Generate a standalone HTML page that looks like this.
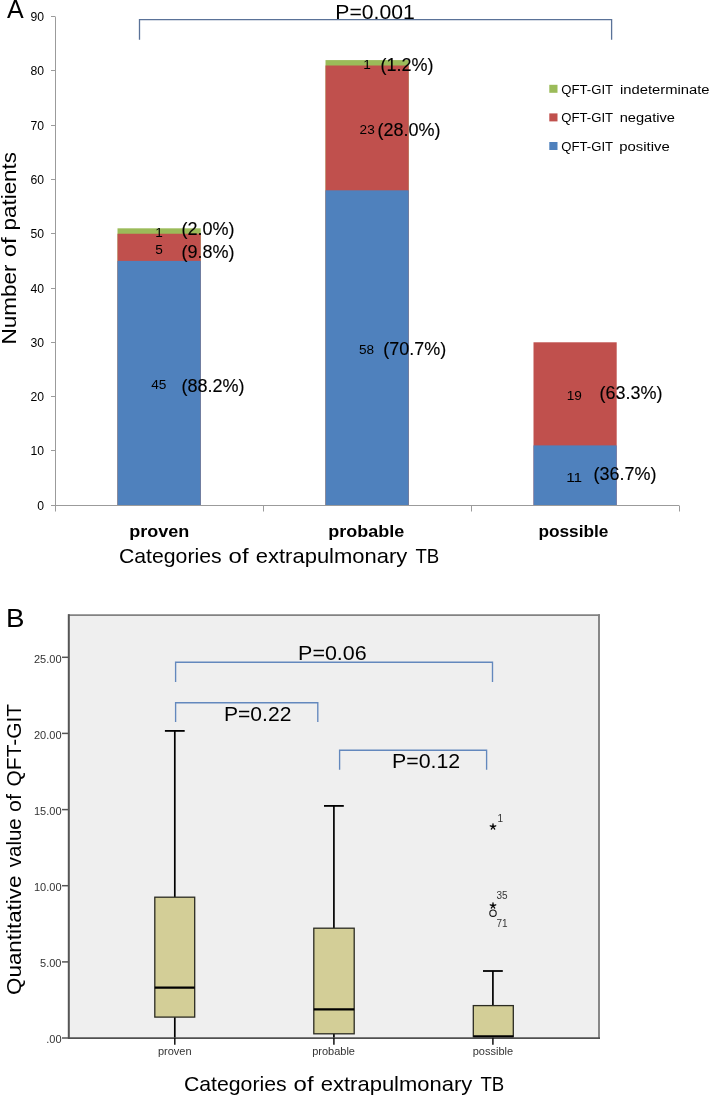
<!DOCTYPE html>
<html><head><meta charset="utf-8"><style>
html,body{margin:0;padding:0;background:#fff;width:709px;height:1096px;overflow:hidden}
svg{display:block;will-change:transform}
text{font-family:"Liberation Sans", sans-serif}
</style></head><body>
<svg width="709" height="1096" viewBox="0 0 709 1096">
<text x="7" y="17.8" font-size="25">A</text>
<rect x="117.5" y="228.32" width="83.2" height="276.78" fill="#9bbb59"/>
<rect x="117.5" y="233.75" width="83.2" height="271.35" fill="#c0504d"/>
<rect x="117.5" y="260.89" width="83.2" height="244.21" fill="#4f81bd"/>
<rect x="325.5" y="60.09" width="83.2" height="445.01" fill="#9bbb59"/>
<rect x="325.5" y="65.51" width="83.2" height="439.59" fill="#c0504d"/>
<rect x="325.5" y="190.33" width="83.2" height="314.77" fill="#4f81bd"/>
<rect x="533.5" y="342.29" width="83.2" height="162.81" fill="#c0504d"/>
<rect x="533.5" y="445.4" width="83.2" height="59.7" fill="#4f81bd"/>
<line x1="55.5" y1="17.1" x2="55.5" y2="511.5" stroke="#9b9b9b" stroke-width="1"/>
<line x1="55" y1="505.5" x2="679" y2="505.5" stroke="#9b9b9b" stroke-width="1"/>
<line x1="51" y1="505.5" x2="55.5" y2="505.5" stroke="#9b9b9b" stroke-width="1"/>
<text x="44" y="509.6" font-size="12.2" text-anchor="end">0</text>
<line x1="51" y1="450.5" x2="55.5" y2="450.5" stroke="#9b9b9b" stroke-width="1"/>
<text x="44" y="455.3" font-size="12.2" text-anchor="end">10</text>
<line x1="51" y1="396.5" x2="55.5" y2="396.5" stroke="#9b9b9b" stroke-width="1"/>
<text x="44" y="401.1" font-size="12.2" text-anchor="end">20</text>
<line x1="51" y1="342.5" x2="55.5" y2="342.5" stroke="#9b9b9b" stroke-width="1"/>
<text x="44" y="346.8" font-size="12.2" text-anchor="end">30</text>
<line x1="51" y1="288.5" x2="55.5" y2="288.5" stroke="#9b9b9b" stroke-width="1"/>
<text x="44" y="292.5" font-size="12.2" text-anchor="end">40</text>
<line x1="51" y1="233.5" x2="55.5" y2="233.5" stroke="#9b9b9b" stroke-width="1"/>
<text x="44" y="238.3" font-size="12.2" text-anchor="end">50</text>
<line x1="51" y1="179.5" x2="55.5" y2="179.5" stroke="#9b9b9b" stroke-width="1"/>
<text x="44" y="184.0" font-size="12.2" text-anchor="end">60</text>
<line x1="51" y1="125.5" x2="55.5" y2="125.5" stroke="#9b9b9b" stroke-width="1"/>
<text x="44" y="129.7" font-size="12.2" text-anchor="end">70</text>
<line x1="51" y1="70.5" x2="55.5" y2="70.5" stroke="#9b9b9b" stroke-width="1"/>
<text x="44" y="75.4" font-size="12.2" text-anchor="end">80</text>
<line x1="51" y1="16.5" x2="55.5" y2="16.5" stroke="#9b9b9b" stroke-width="1"/>
<text x="44" y="21.2" font-size="12.2" text-anchor="end">90</text>
<line x1="263.5" y1="505.5" x2="263.5" y2="511.5" stroke="#9b9b9b" stroke-width="1"/>
<line x1="471.5" y1="505.5" x2="471.5" y2="511.5" stroke="#9b9b9b" stroke-width="1"/>
<line x1="679.5" y1="505.5" x2="679.5" y2="511.5" stroke="#9b9b9b" stroke-width="1"/>
<g transform="translate(16.4,350) rotate(-90)">
<text x="5.5" y="0" font-size="21" textLength="80.1" lengthAdjust="spacingAndGlyphs">Number</text>
<text x="92.8" y="0" font-size="21" textLength="19.9" lengthAdjust="spacingAndGlyphs">of</text>
<text x="119.6" y="0" font-size="21" textLength="78.3" lengthAdjust="spacingAndGlyphs">patients</text>
</g>
<text x="129.2" y="537.3" font-size="16.5" textLength="60" lengthAdjust="spacingAndGlyphs" font-weight="bold">proven</text>
<text x="328.3" y="537.3" font-size="16.5" textLength="76" lengthAdjust="spacingAndGlyphs" font-weight="bold">probable</text>
<text x="538.4" y="537.3" font-size="16.5" textLength="70" lengthAdjust="spacingAndGlyphs" font-weight="bold">possible</text>
<text x="118.9" y="562.8" font-size="21" textLength="102.8" lengthAdjust="spacingAndGlyphs">Categories</text>
<text x="228.6" y="562.8" font-size="21" textLength="20.0" lengthAdjust="spacingAndGlyphs">of</text>
<text x="255.8" y="562.8" font-size="21" textLength="151.5" lengthAdjust="spacingAndGlyphs">extrapulmonary</text>
<text x="415.4" y="562.8" font-size="21" textLength="23.8" lengthAdjust="spacingAndGlyphs">TB</text>
<polyline points="139.5,39.8 139.5,19.6 611.6,19.6 611.6,39.8" fill="none" stroke="#5a7298" stroke-width="1.3"/>
<text x="335.3" y="19" font-size="20.5" textLength="79.5" lengthAdjust="spacingAndGlyphs">P=0.001</text>
<rect x="549.3" y="84.8" width="8.2" height="8.0" fill="#9bbb59"/>
<text x="561.3" y="93.5" font-size="13.7" textLength="51.8" lengthAdjust="spacingAndGlyphs">QFT-GIT</text>
<text x="620" y="93.5" font-size="13.7" textLength="89.5" lengthAdjust="spacingAndGlyphs">indeterminate</text>
<rect x="549.3" y="113.4" width="8.2" height="8.0" fill="#c0504d"/>
<text x="561.3" y="122.0" font-size="13.7" textLength="51.8" lengthAdjust="spacingAndGlyphs">QFT-GIT</text>
<text x="619.7" y="122.0" font-size="13.7" textLength="55.3" lengthAdjust="spacingAndGlyphs">negative</text>
<rect x="549.3" y="142.0" width="8.2" height="8.0" fill="#4f81bd"/>
<text x="561.3" y="150.5" font-size="13.7" textLength="51.8" lengthAdjust="spacingAndGlyphs">QFT-GIT</text>
<text x="619.2" y="150.5" font-size="13.7" textLength="50.5" lengthAdjust="spacingAndGlyphs">positive</text>
<text x="155.3" y="236.6" font-size="13.6">1</text>
<text x="155.2" y="253.6" font-size="13.6">5</text>
<text x="151.2" y="389.2" font-size="13.6" textLength="15.2" lengthAdjust="spacingAndGlyphs">45</text>
<text x="363.2" y="68.5" font-size="13.6">1</text>
<text x="359.6" y="134" font-size="13.6">23</text>
<text x="358.9" y="353.7" font-size="13.6">58</text>
<text x="566.8" y="400.1" font-size="13.6">19</text>
<text x="566.2" y="481.7" font-size="13.6" textLength="16" lengthAdjust="spacingAndGlyphs">11</text>
<text x="181.4" y="235.4" font-size="18" stroke="#000" stroke-width="0.12">(2.0%)</text>
<text x="181.4" y="258.4" font-size="18" stroke="#000" stroke-width="0.12">(9.8%)</text>
<text x="181.4" y="391.6" font-size="18" stroke="#000" stroke-width="0.12">(88.2%)</text>
<text x="380.6" y="70.5" font-size="18" stroke="#000" stroke-width="0.12">(1.2%)</text>
<text x="377.4" y="135.5" font-size="18" stroke="#000" stroke-width="0.12">(28.0%)</text>
<text x="383.3" y="354.5" font-size="18" stroke="#000" stroke-width="0.12">(70.7%)</text>
<text x="599.4" y="399.4" font-size="18" stroke="#000" stroke-width="0.12">(63.3%)</text>
<text x="593.4" y="479.5" font-size="18" stroke="#000" stroke-width="0.12">(36.7%)</text>
<text x="5.9" y="626.9" font-size="25" textLength="18.5" lengthAdjust="spacingAndGlyphs">B</text>
<rect x="69" y="615" width="530" height="423" fill="#efefef"/>
<line x1="68" y1="615.1" x2="600" y2="615.1" stroke="#828282" stroke-width="1.9"/>
<line x1="599" y1="614.2" x2="599" y2="1039" stroke="#828282" stroke-width="1.9"/>
<line x1="68.8" y1="614.2" x2="68.8" y2="1039" stroke="#555" stroke-width="2"/>
<line x1="62" y1="1038.0" x2="69" y2="1038.0" stroke="#555" stroke-width="1.5"/>
<text x="61.5" y="1043.3" font-size="11" text-anchor="end" fill="#333">.00</text>
<line x1="62" y1="961.9" x2="69" y2="961.9" stroke="#555" stroke-width="1.5"/>
<text x="61.5" y="967.2" font-size="11" text-anchor="end" fill="#333">5.00</text>
<line x1="62" y1="885.7" x2="69" y2="885.7" stroke="#555" stroke-width="1.5"/>
<text x="61.5" y="891.0" font-size="11" text-anchor="end" fill="#333">10.00</text>
<line x1="62" y1="809.6" x2="69" y2="809.6" stroke="#555" stroke-width="1.5"/>
<text x="61.5" y="814.9" font-size="11" text-anchor="end" fill="#333">15.00</text>
<line x1="62" y1="733.4" x2="69" y2="733.4" stroke="#555" stroke-width="1.5"/>
<text x="61.5" y="738.7" font-size="11" text-anchor="end" fill="#333">20.00</text>
<line x1="62" y1="657.3" x2="69" y2="657.3" stroke="#555" stroke-width="1.5"/>
<text x="61.5" y="662.6" font-size="11" text-anchor="end" fill="#333">25.00</text>
<polyline points="175.6,682 175.6,662.2 492.5,662.2 492.5,682" fill="none" stroke="#6388bd" stroke-width="1.35"/>
<polyline points="175.6,722 175.6,702.7 317.8,702.7 317.8,722" fill="none" stroke="#6388bd" stroke-width="1.35"/>
<polyline points="339.6,769.7 339.6,750.2 486.6,750.2 486.6,769.7" fill="none" stroke="#6388bd" stroke-width="1.35"/>
<text x="298.1" y="660.2" font-size="20.5" textLength="68.6" lengthAdjust="spacingAndGlyphs">P=0.06</text>
<text x="224" y="720.5" font-size="20.5" textLength="67.4" lengthAdjust="spacingAndGlyphs">P=0.22</text>
<text x="392" y="768.4" font-size="20.5" textLength="68.2" lengthAdjust="spacingAndGlyphs">P=0.12</text>
<line x1="174.8" y1="730.9" x2="174.8" y2="897.2" stroke="#000" stroke-width="1.7"/>
<line x1="164.9" y1="730.9" x2="184.70000000000002" y2="730.9" stroke="#000" stroke-width="1.8"/>
<line x1="174.8" y1="1017.1" x2="174.8" y2="1038" stroke="#000" stroke-width="1.7"/>
<rect x="154.8" y="897.2" width="39.9" height="119.9" fill="#d3ce97" stroke="#2b2b22" stroke-width="1.3"/>
<line x1="154.8" y1="987.6" x2="194.7" y2="987.6" stroke="#000" stroke-width="2.1"/>
<line x1="333.9" y1="805.9" x2="333.9" y2="928.2" stroke="#000" stroke-width="1.7"/>
<line x1="324.0" y1="805.9" x2="343.79999999999995" y2="805.9" stroke="#000" stroke-width="1.8"/>
<line x1="333.9" y1="1033.8" x2="333.9" y2="1038" stroke="#000" stroke-width="1.7"/>
<rect x="313.8" y="928.2" width="40.4" height="105.6" fill="#d3ce97" stroke="#2b2b22" stroke-width="1.3"/>
<line x1="313.8" y1="1009.4" x2="354.2" y2="1009.4" stroke="#000" stroke-width="2.1"/>
<line x1="492.9" y1="971" x2="492.9" y2="1005.6" stroke="#000" stroke-width="1.7"/>
<line x1="483.0" y1="971" x2="502.79999999999995" y2="971" stroke="#000" stroke-width="1.8"/>
<line x1="492.9" y1="1036.9" x2="492.9" y2="1038" stroke="#000" stroke-width="1.7"/>
<rect x="473.3" y="1005.6" width="40.0" height="31.3" fill="#d3ce97" stroke="#2b2b22" stroke-width="1.3"/>
<line x1="473.3" y1="1036.4" x2="513.3" y2="1036.4" stroke="#000" stroke-width="2.1"/>
<line x1="68" y1="1038.2" x2="600" y2="1038.2" stroke="#505050" stroke-width="1.8"/>
<line x1="174.8" y1="1038" x2="174.8" y2="1044.8" stroke="#111" stroke-width="1.5"/>
<line x1="333.9" y1="1038" x2="333.9" y2="1044.8" stroke="#111" stroke-width="1.5"/>
<line x1="492.9" y1="1038" x2="492.9" y2="1044.8" stroke="#111" stroke-width="1.5"/>
<text x="174.8" y="1054.8" font-size="11" text-anchor="middle" fill="#333">proven</text>
<text x="333.6" y="1054.8" font-size="11" text-anchor="middle" fill="#333">probable</text>
<text x="492.9" y="1054.8" font-size="11" text-anchor="middle" fill="#333">possible</text>
<path d="M493,826.7L493.0,823.8M493,826.7L495.76,825.8M493,826.7L494.7,829.05M493,826.7L491.3,829.05M493,826.7L490.24,825.8" stroke="#000" stroke-width="1.3" stroke-linecap="round" fill="none"/>
<path d="M493,905.7L493.0,902.8M493,905.7L495.76,904.8M493,905.7L494.7,908.05M493,905.7L491.3,908.05M493,905.7L490.24,904.8" stroke="#000" stroke-width="1.3" stroke-linecap="round" fill="none"/>
<circle cx="493" cy="913.2" r="3.2" fill="none" stroke="#111" stroke-width="1.1"/>
<text x="497.5" y="821.9" font-size="10" fill="#333">1</text>
<text x="496.5" y="899.1" font-size="10" fill="#333">35</text>
<text x="496.5" y="926.5" font-size="10" fill="#333">71</text>
<g transform="translate(21.1,1000) rotate(-90)">
<text x="5.1" y="0" font-size="21" textLength="119.3" lengthAdjust="spacingAndGlyphs">Quantitative</text>
<text x="132.8" y="0" font-size="21" textLength="48.9" lengthAdjust="spacingAndGlyphs">value</text>
<text x="188.1" y="0" font-size="21" textLength="17.7" lengthAdjust="spacingAndGlyphs">of</text>
<text x="213.6" y="0" font-size="21" textLength="82.5" lengthAdjust="spacingAndGlyphs">QFT-GIT</text>
</g>
<text x="183.9" y="1090.7" font-size="21" textLength="102.8" lengthAdjust="spacingAndGlyphs">Categories</text>
<text x="293.6" y="1090.7" font-size="21" textLength="20.0" lengthAdjust="spacingAndGlyphs">of</text>
<text x="320.8" y="1090.7" font-size="21" textLength="151.5" lengthAdjust="spacingAndGlyphs">extrapulmonary</text>
<text x="480.4" y="1090.7" font-size="21" textLength="23.8" lengthAdjust="spacingAndGlyphs">TB</text>
</svg>
</body></html>
